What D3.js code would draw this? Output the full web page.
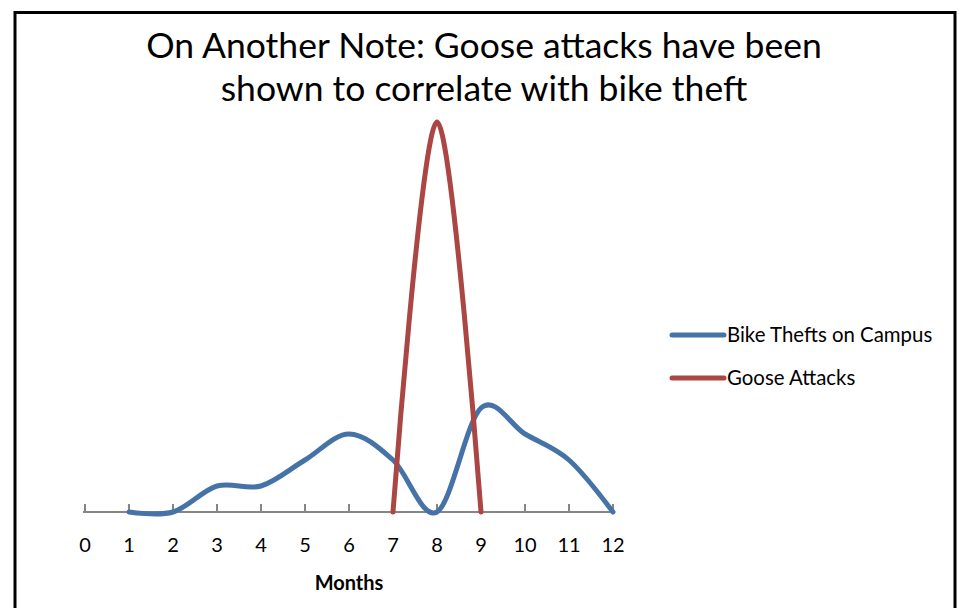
<!DOCTYPE html>
<html lang="en">
  <head>
    <meta charset="UTF-8" />
    <title>Goose Attacks vs Bike Thefts</title>
    <script src="https://d3js.org/d3.v7.min.js"></script>
    <style>
      body {
        margin: 0;
        background: white;
        font-family: Lato, "Open Sans", sans-serif;
      }
      svg {
        display: block;
      }
      .tick-label {
        font-size: 20px;
        fill: #000;
      }
      .legend-label {
        font-size: 20.4px;
        fill: #000;
      }
    </style>
  </head>
  <body>
    <svg width="974" height="608"></svg>
    <script>
      // Chart data
      const months = [1, 2, 3, 4, 5, 6, 7, 8, 9, 10, 11, 12];
      const bikeThefts = [0, 0, 1, 1, 2, 3, 2, 0, 4, 3, 2, 0];
      const gooseMonths = [7, 8, 9];
      const gooseAttacks = [0, 15, 0];
      const xTicks = [0, 1, 2, 3, 4, 5, 6, 7, 8, 9, 10, 11, 12];
      const titleLines = [
        "On Another Note: Goose attacks have been",
        "shown to correlate with bike theft",
      ];
      const seriesNames = ["Bike Thefts on Campus", "Goose Attacks"];
      const colors = ["#4572A7", "#AA4643"];

      const svg = d3.select("svg");

      // chart border (bottom edge runs off the picture)
      svg
        .append("path")
        .attr("d", "M15,640 L15,12.5 L955,12.5 L955,640")
        .attr("fill", "none")
        .attr("stroke", "#000")
        .attr("stroke-width", 3);

      // Title
      svg
        .append("g")
        .selectAll("text")
        .data(titleLines)
        .join("text")
        .attr("x", 484)
        .attr("y", (d, i) => 58 + i * 43)
        .attr("text-anchor", "middle")
        .style("font-size", "35.5px")
        .text((d) => d);

      // Scales
      const x = d3.scaleLinear().domain([0, 12]).range([85, 613]);
      const y = d3.scaleLinear().domain([0, 16]).range([512, 96]);

      // X axis (ticks point up)
      const axis = svg.append("g").attr("transform", `translate(0,${y(0)})`);
      axis
        .append("line")
        .attr("x1", x(0) - 2)
        .attr("x2", x(12))
        .attr("stroke", "#868686")
        .attr("stroke-width", 2);
      axis
        .selectAll(".tk")
        .data(xTicks)
        .join("line")
        .attr("class", "tk")
        .attr("x1", (d) => x(d))
        .attr("x2", (d) => x(d))
        .attr("y1", -8)
        .attr("y2", 0)
        .attr("stroke", "#868686")
        .attr("stroke-width", 2);
      axis
        .selectAll(".tick-label")
        .data(xTicks)
        .join("text")
        .attr("class", "tick-label")
        .attr("x", (d) => x(d))
        .attr("y", 40)
        .attr("text-anchor", "middle")
        .text((d) => d);

      svg
        .append("text")
        .attr("x", x(6))
        .attr("y", 590)
        .attr("text-anchor", "middle")
        .style("font-size", "20px")
        .style("font-weight", "bold")
        .text("Months");

      // Smoothed lines
      const line = d3
        .line()
        .x((d) => x(d[0]))
        .y((d) => y(d[1]))
        .curve(d3.curveCatmullRom.alpha(0));

      const series = [
        d3.zip(months, bikeThefts),
        d3.zip(gooseMonths, gooseAttacks),
      ];

      svg
        .append("g")
        .selectAll("path")
        .data(series)
        .join("path")
        .attr("d", line)
        .attr("fill", "none")
        .attr("stroke", (d, i) => colors[i])
        .attr("stroke-width", 5)
        .attr("stroke-linecap", "round")
        .attr("stroke-linejoin", "round");

      // Legend
      const legend = svg
        .append("g")
        .selectAll("g")
        .data(seriesNames)
        .join("g")
        .attr("transform", (d, i) => `translate(672,${335 + i * 43})`);
      legend
        .append("line")
        .attr("x1", 0)
        .attr("x2", 52)
        .attr("stroke", (d, i) => colors[i])
        .attr("stroke-width", 5)
        .attr("stroke-linecap", "round");
      legend
        .append("text")
        .attr("class", "legend-label")
        .attr("x", 55)
        .attr("y", 7)
        .text((d) => d);
    </script>
  </body>
</html>
